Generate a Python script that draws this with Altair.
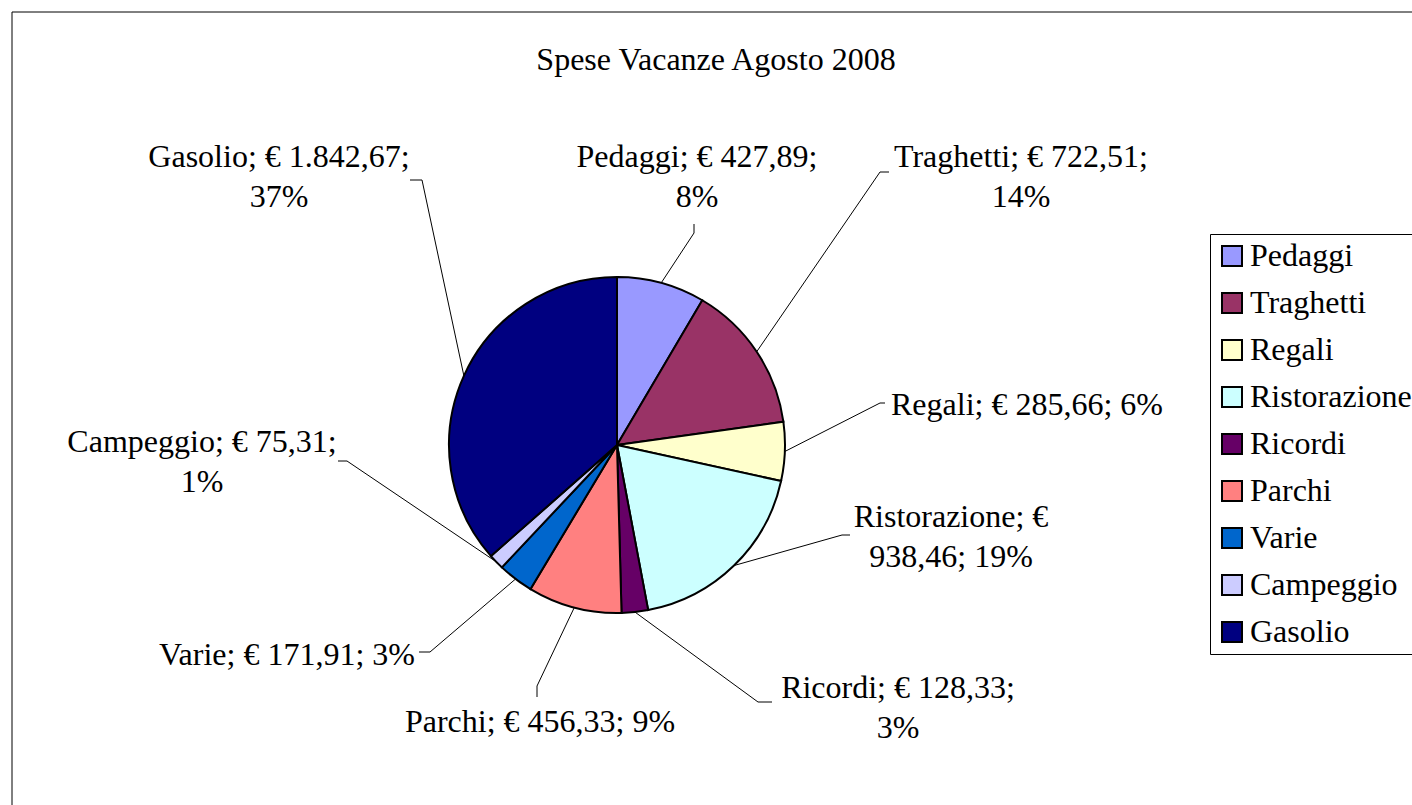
import altair as alt
import pandas as pd
import numpy as np

# ---------------- data ----------------
categories = ["Pedaggi", "Traghetti", "Regali", "Ristorazione", "Ricordi",
              "Parchi", "Varie", "Campeggio", "Gasolio"]
values = [427.89, 722.51, 285.66, 938.46, 128.33, 456.33, 171.91, 75.31, 1842.67]
percent_labels = [8, 14, 6, 19, 3, 9, 3, 1, 37]
title_text = "Spese Vacanze Agosto 2008"

# ---------------- styles / layout ----------------
colors = ["#9999FF", "#993366", "#FFFFCC", "#CCFFFF", "#660066",
          "#FF8080", "#0066CC", "#CCCCFF", "#000080"]
FONT = "Liberation Serif"
FS = 32
R = 168                      # pie radius (px)
PLOT_W, PLOT_H = 1400, 793   # plot area (page offset 12,12)
CX, CY = 605, 433            # pie centre inside plot area (px)

# token index before which a line break is placed (0 = single line)
break_before = [3, 3, 0, 2, 3, 0, 0, 3, 3]
# first-line centres of labels, relative to pie centre (px, y up)
label_pos = [(80, 288), (404, 288), (410, 40), (334, -72), (281, -243),
             (-77, -277), (-330, -210), (-415, 3), (-338, 288)]
# leader line elbow and end, relative to pie centre (px, y up)
leader_elbow = [(77, 212), (263, 273), (263, 42), (225, -90), (141, -257),
                (-80, -241), (-187, -207), (-270, -16), (-195, 265)]
leader_end = [(77, 221), (272, 273), (268, 42), (233, -90), (155, -257),
              (-80, -252), (-198, -207), (-279, -16), (-207, 265)]
title_pos = (99, 385)

xs = alt.Scale(domain=[-CX, PLOT_W - CX], nice=False, zero=False)
ys = alt.Scale(domain=[-(PLOT_H - CY), CY], nice=False, zero=False)

total = float(np.sum(values))
cum = np.cumsum(values)
c0 = cum - np.array(values)


def euro(v):
    s = f"{v:,.2f}"
    return s.replace(",", "X").replace(".", ",").replace("X", ".")


labels = []
for c, v, p, b in zip(categories, values, percent_labels, break_before):
    toks = [f"{c};", "€", f"{euro(v)};", f"{p}%"]
    if b:
        labels.append(" ".join(toks[:b]) + "\n" + " ".join(toks[b:]))
    else:
        labels.append(" ".join(toks))

pie_df = pd.DataFrame({"category": categories, "value": values,
                       "c0": c0, "c1": cum, "cx": 0.0, "cy": 0.0})

mid = (c0 + cum) / 2.0 / total * 2 * np.pi
rows = []
for i, c in enumerate(categories):
    rows.append({"category": c, "pt": 0, "x": R * np.sin(mid[i]), "y": R * np.cos(mid[i])})
    rows.append({"category": c, "pt": 1, "x": leader_elbow[i][0], "y": leader_elbow[i][1]})
    rows.append({"category": c, "pt": 2, "x": leader_end[i][0], "y": leader_end[i][1]})
line_df = pd.DataFrame(rows)

lab_df = pd.DataFrame({"category": categories, "label": labels,
                       "x": [p[0] for p in label_pos], "y": [p[1] for p in label_pos]})
title_df = pd.DataFrame({"t": [title_text], "x": [title_pos[0]], "y": [title_pos[1]]})

border = alt.Chart(title_df).mark_rect(fillOpacity=0, stroke="black", strokeWidth=1).encode(
    x=alt.value(0), x2=alt.value(PLOT_W + 50), y=alt.value(0), y2=alt.value(PLOT_H + 50)
)

leaders = alt.Chart(line_df).mark_line(color="black", strokeWidth=1).encode(
    x=alt.X("x:Q", scale=xs, axis=None),
    y=alt.Y("y:Q", scale=ys, axis=None),
    detail="category:N",
    order="pt:Q",
)

pie = alt.Chart(pie_df).mark_arc(outerRadius=R, stroke="black", strokeWidth=2).encode(
    theta=alt.Theta("c0:Q", scale=alt.Scale(domain=[0, total], range=[0, 2 * np.pi]), stack=False),
    theta2="c1:Q",
    x=alt.X("cx:Q", scale=xs, axis=None),
    y=alt.Y("cy:Q", scale=ys, axis=None),
    color=alt.Color(
        "category:N",
        scale=alt.Scale(domain=categories, range=colors),
        legend=alt.Legend(
            title=None, orient="none", legendX=1198, legendY=222,
            symbolType="square", symbolSize=400, symbolStrokeColor="black",
            symbolStrokeWidth=2, labelFont=FONT, labelFontSize=FS, labelColor="black",
            labelOffset=2, rowPadding=15, padding=6, strokeColor="black",
            fillColor="white", labelLimit=400,
        ),
    ),
)

texts = alt.Chart(lab_df).mark_text(
    font=FONT, fontSize=FS, lineHeight=40, align="center", baseline="middle",
    lineBreak="\n", color="black",
).encode(
    x=alt.X("x:Q", scale=xs, axis=None),
    y=alt.Y("y:Q", scale=ys, axis=None),
    text="label:N",
)

title = alt.Chart(title_df).mark_text(
    font=FONT, fontSize=FS, align="center", baseline="middle", color="black",
).encode(
    x=alt.X("x:Q", scale=xs, axis=None),
    y=alt.Y("y:Q", scale=ys, axis=None),
    text="t:N",
)

chart = alt.layer(border, leaders, pie, texts, title).properties(
    width=PLOT_W, height=PLOT_H, autosize="none",
    padding={"left": 12, "top": 12, "right": 0, "bottom": 0},
    background="white",
).configure_view(strokeWidth=0)

chart.save("out.html", embed_options={"renderer": "svg", "actions": False})
